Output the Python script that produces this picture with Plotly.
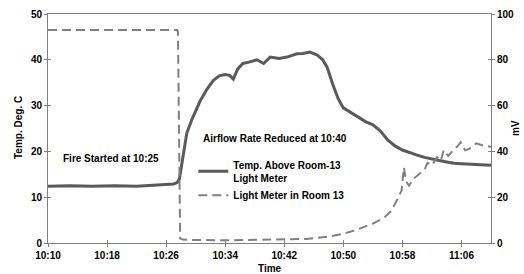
import plotly.graph_objects as go
import pandas as pd

# Minutes after 10:10 and temperature (deg C)
temp_min = [0, 3, 6, 9, 12, 14, 15, 16, 17, 17.5, 17.8, 18.3, 18.8, 19.5, 20.6, 21.5,
            22.4, 23.2, 24.0, 24.6, 25.1, 25.7, 26.4, 27.2, 28.3, 29.2, 30.1, 31.3,
            32.4, 33.7, 34.5, 35.5, 36.5, 37.2, 37.8, 38.6, 39.3, 40, 41, 42, 43, 44,
            45, 46, 47, 48, 49, 50, 51, 52, 53, 54, 55, 56, 57, 58, 59, 60]
temp_val = [12.4, 12.5, 12.4, 12.5, 12.4, 12.6, 12.8, 12.8, 12.9, 13.2, 14, 19, 24, 27,
            31, 33.5, 35.5, 36.5, 36.8, 36.6, 35.8, 38, 39.2, 39.5, 40, 39.2, 40.6, 40.3,
            40.6, 41.3, 41.4, 41.7, 41, 40, 38.4, 34.5, 31.5, 29.5, 28.5, 27.5, 26.5, 25.8,
            24.5, 22.5, 21.2, 20.3, 19.7, 19.2, 18.7, 18.3, 18.0, 17.7, 17.4, 17.3, 17.2,
            17.1, 17.0, 17.0]

# Minutes after 10:10 and light meter (mV)
light_min = [0, 5, 10, 15, 17.5, 17.6, 17.9, 18.2, 20, 25, 30, 35, 38, 40, 42, 44,
             45.5, 46.5, 47.3, 47.9, 48.2, 48.5, 48.9, 49.5, 50.4, 51, 51.4, 52, 52.7,
             53.2, 53.6, 54.2, 54.9, 55.4, 55.9, 56.5, 57, 58, 59, 60]
light_val = [93, 93, 93, 93, 93, 92, 2, 1.5, 1.3, 1.2, 1.5, 1.8, 2.8, 4, 6, 8.5,
             11, 14, 19, 23, 33, 27, 25, 28, 30.5, 32, 35, 34, 37.5, 36, 40.6, 38,
             40.6, 42, 44, 40.5, 41, 43.5, 42.5, 42]

x_ticks = ["10:10", "10:18", "10:26", "10:34", "10:42", "10:50", "10:58", "11:06"]
y_ticks = [0, 10, 20, 30, 40, 50]
y2_ticks = [0, 20, 40, 60, 80, 100]

base = pd.Timestamp("2000-01-01 10:10")
tx = [base + pd.Timedelta(minutes=m) for m in temp_min]
lx = [base + pd.Timedelta(minutes=m) for m in light_min]
tickvals = [pd.Timestamp("2000-01-01 " + t) for t in x_ticks]
xrange = [base, base + pd.Timedelta(minutes=60)]

FONT = dict(family="Liberation Sans, Arial, sans-serif", size=10, color="black", weight="bold")
AX = "#808080"

L, R, T, B, W, H = 48, 33, 14, 31, 524, 274
PW, PH = W - L - R, H - T - B

fig = go.Figure()
fig.add_trace(go.Scatter(x=tx, y=temp_val, mode="lines", name="Temp. Above Room-13<br>Light Meter",
                         line=dict(color="#5a5a5a", width=3)))
fig.add_trace(go.Scatter(x=lx, y=light_val, mode="lines", name="Light Meter in Room 13",
                         yaxis="y2", line=dict(color="#808080", width=2, dash="9px,5px")))

common = dict(showgrid=False, zeroline=False, automargin=False, tickfont=FONT,
              tickcolor=AX, ticklen=3)

fig.update_layout(
    width=W, height=H,
    margin=dict(l=L, r=R, t=T, b=B),
    paper_bgcolor="white", plot_bgcolor="white",
    font=FONT,
    showlegend=True,
    legend=dict(x=0.328, y=0.398, xanchor="left", yanchor="top", bgcolor="rgba(0,0,0,0)",
                font=FONT, tracegroupgap=0, itemwidth=30),
    xaxis=dict(type="date", range=xrange, tickvals=tickvals, ticktext=x_ticks,
               showline=True, linecolor=AX, linewidth=1, mirror=True,
               ticks="outside", **common),
    xaxis2=dict(type="date", range=xrange, tickvals=tickvals, overlaying="x",
                showticklabels=False, ticks="inside", showline=False, **common),
    yaxis=dict(range=[0, 50], tickvals=y_ticks, showline=True, linecolor=AX, linewidth=1,
               ticks="outside", **common),
    yaxis3=dict(range=[0, 50], tickvals=y_ticks, overlaying="y", side="left",
                showticklabels=False, ticks="inside", showline=False, **common),
    yaxis2=dict(range=[0, 100], tickvals=y2_ticks, overlaying="y", side="right",
                showline=True, linecolor=AX, linewidth=1, ticks="outside", **common),
    yaxis4=dict(range=[0, 100], tickvals=y2_ticks, overlaying="y", side="right",
                showticklabels=False, ticks="inside", showline=False, **common),
    annotations=[
        dict(text="Fire Started at 10:25", xref="paper", yref="paper",
             x=(111 - L) / PW, y=(H - B - 158) / PH, showarrow=False, font=FONT,
             xanchor="center", yanchor="middle"),
        dict(text="Airflow Rate Reduced at 10:40", xref="paper", yref="paper",
             x=(201 - L) / PW, y=(H - B - 138) / PH, showarrow=False, font=FONT,
             xanchor="left", yanchor="middle"),
        dict(text="Temp. Deg. C", xref="paper", yref="paper", textangle=-90,
             x=(18 - L) / PW, y=(H - B - 127) / PH, showarrow=False, font=FONT,
             xanchor="center", yanchor="middle"),
        dict(text="mV", xref="paper", yref="paper", textangle=-90,
             x=(515 - L) / PW, y=(H - B - 128) / PH, showarrow=False, font=FONT,
             xanchor="center", yanchor="middle"),
        dict(text="Time", xref="paper", yref="paper",
             x=(270 - L) / PW, y=(H - B - 268) / PH, showarrow=False, font=FONT,
             xanchor="center", yanchor="middle"),
    ],
)

# invisible traces to activate the inner-tick overlay axes
fig.add_trace(go.Scatter(x=[xrange[0]], y=[None], xaxis="x2", yaxis="y3", showlegend=False,
                         hoverinfo="skip"))
fig.add_trace(go.Scatter(x=[xrange[0]], y=[None], xaxis="x2", yaxis="y4", showlegend=False,
                         hoverinfo="skip"))

fig.write_html("out.html", config={"displayModeBar": False},
               post_script="document.body.style.margin='0';document.body.style.overflow='hidden';")
